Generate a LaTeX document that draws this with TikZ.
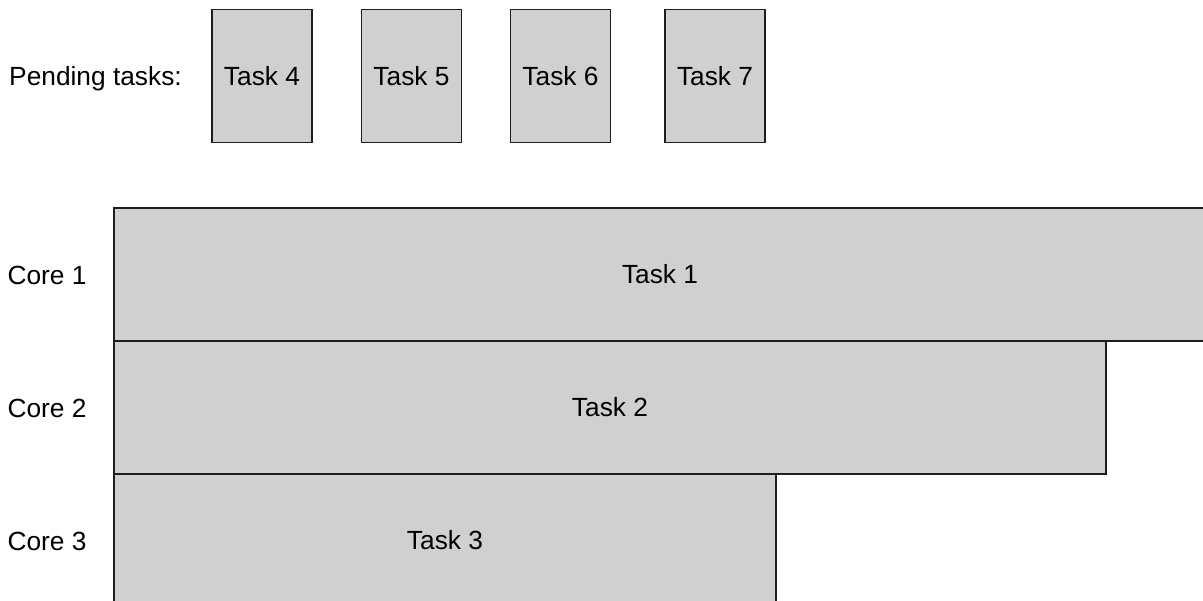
\documentclass[tikz,border=0pt]{standalone}
\usepackage{fontspec}
\setmainfont{Liberation Sans}
\definecolor{taskgray}{RGB}{208,208,208}
\definecolor{edgegray}{RGB}{30,30,30}
\begin{document}
\begin{tikzpicture}[x=1pt,y=-1pt,
  every node/.style={font=\fontsize{26.3}{31}\selectfont, inner sep=0pt, outer sep=0pt},
  taskbox/.style={draw=edgegray, fill=taskgray, line width=1.3pt, rectangle,
    minimum width=100pt, minimum height=133pt},
  corebox/.style={draw=edgegray, fill=taskgray, line width=1.3pt, rectangle,
    minimum height=133pt},
  label/.style={anchor=center, text depth=0pt}]
  \useasboundingbox (0,0) rectangle (1203,601);
  \clip (0,0) rectangle (1203,601);

  % queue of waiting tasks
  \node[label] (pending) at (95.5,76) {Pending tasks:};
  \node[taskbox] (t4) at (262,76) {Task 4};
  \node[taskbox] (t5) at (411.5,76) {Task 5};
  \node[taskbox] (t6) at (560.5,76) {Task 6};
  \node[taskbox] (t7) at (715,76) {Task 7};

  % running tasks, one row per core
  \node[corebox, minimum width=1092pt] (t1) at (660,274.5) {Task 1};
  \node[corebox, minimum width=992pt] (t2) at (610,407.5) {Task 2};
  \node[corebox, minimum width=662pt] (t3) at (445,540.5) {Task 3};

  \node[label] (c1) at (47,275) {Core 1};
  \node[label] (c2) at (47,408) {Core 2};
  \node[label] (c3) at (47,541) {Core 3};
\end{tikzpicture}
\end{document}
